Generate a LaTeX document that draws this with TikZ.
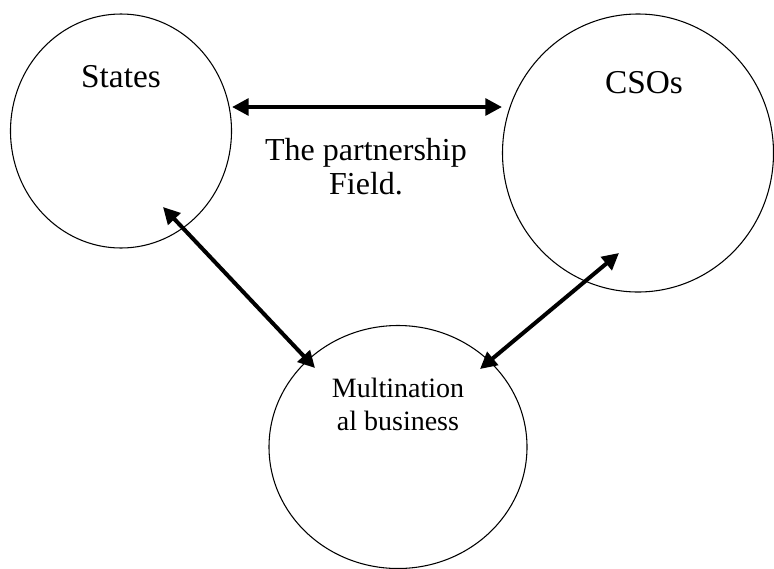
\documentclass[tikz,border=0pt]{standalone}
\usepackage{fontspec}
\setmainfont{Liberation Serif}
\usetikzlibrary{arrows.meta,shapes.geometric}

\begin{document}
\begin{tikzpicture}[x=0.75pt,y=-0.75pt]
    \tikzstyle{actor}=[ellipse, draw, line width=0.8pt, inner sep=0pt]
    \tikzstyle{actortext}=[font=\fontsize{25}{30}\selectfont]
    \tikzstyle{fieldtext}=[font=\fontsize{24}{25.5}\selectfont, align=center]
    \tikzstyle{mnctext}=[font=\fontsize{21}{24.75}\selectfont, align=center]
    \tikzstyle{link}=[line width=3pt, {Triangle[length=12.5pt,width=12.5pt]}-{Triangle[length=12.5pt,width=12.5pt]}]

    \useasboundingbox (0,0) rectangle (774,568);

    % actors
    \node[actor, minimum width=165.75pt, minimum height=175.5pt] (states) at (121,131) {};
    \node[actor, minimum width=203.25pt, minimum height=208.5pt] (csos) at (638,153) {};
    \node[actor, minimum width=193.5pt, minimum height=182.25pt] (mnc) at (398,447) {};

    % actor names
    \node[actortext] (statesname) at (121,77) {States};
    \node[actortext] (csosname) at (644,83) {CSOs};
    \node[mnctext] (mncname) at (398,404) {Multination\\al business};
    \node[fieldtext] (fieldname) at (366,167) {The partnership\\Field.};

    % arrow ends
    \coordinate (statesE) at (232,107);
    \coordinate (csosW) at (502,107);
    \coordinate (statesS) at (163,207);
    \coordinate (mncNW) at (315,368);
    \coordinate (csosS) at (619,253);
    \coordinate (mncNE) at (480,369);

    % relations
    \draw[link] (statesE) -- (csosW);
    \draw[link] (statesS) -- (mncNW);
    \draw[link] (csosS) -- (mncNE);

\end{tikzpicture}
\end{document}
